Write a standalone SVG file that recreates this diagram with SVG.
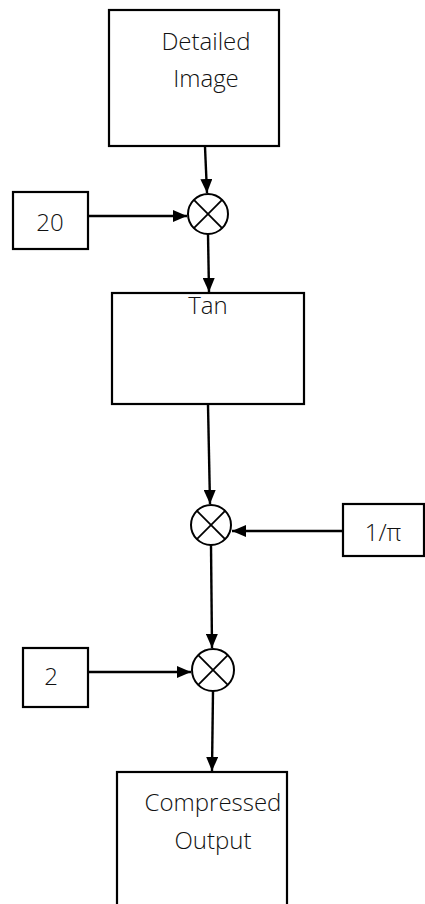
<svg xmlns="http://www.w3.org/2000/svg" width="425" height="904" viewBox="0 0 425 904">
  <style>
    .box { fill: #fff; stroke: #000; stroke-width: 2.2; }
    .mult circle { fill: #fff; stroke: #000; stroke-width: 2; }
    .mult line { stroke: #000; stroke-width: 1.8; }
    .lbl { font-family: "Open Sans", "Liberation Sans", sans-serif; font-weight: 300; font-size: 24px; fill: #111; text-anchor: middle; }
    .wire { stroke: #000; stroke-width: 2.4; fill: none; marker-end: url(#head); }
  </style>
  <defs>
    <marker id="head" viewBox="0 0 14 12" refX="14" refY="6" markerWidth="14" markerHeight="12" markerUnits="userSpaceOnUse" orient="auto">
      <path d="M0,0 L14,6 L0,12 Z" fill="#000"/>
    </marker>
  </defs>
  <rect width="425" height="904" fill="#fff"/>

  <g id="detailed-image">
    <rect class="box" x="109" y="10" width="170" height="136"/>
    <text class="lbl" x="206" y="50">Detailed</text>
    <text class="lbl" x="206" y="87">Image</text>
  </g>

  <g id="const-20">
    <rect class="box" x="13" y="192" width="75" height="57"/>
    <text class="lbl" x="50" y="231">20</text>
  </g>

  <g id="mult-1" class="mult">
    <circle cx="208" cy="214" r="20"/>
    <line x1="193.9" y1="199.9" x2="222.1" y2="228.1"/>
    <line x1="222.1" y1="199.9" x2="193.9" y2="228.1"/>
  </g>

  <g id="tan">
    <rect class="box" x="112" y="293" width="192" height="111"/>
    <text class="lbl" x="208" y="314">Tan</text>
  </g>

  <g id="mult-2" class="mult">
    <circle cx="211" cy="525" r="20"/>
    <line x1="196.9" y1="510.9" x2="225.1" y2="539.1"/>
    <line x1="225.1" y1="510.9" x2="196.9" y2="539.1"/>
  </g>

  <g id="const-inv-pi">
    <rect class="box" x="343" y="504" width="81" height="52"/>
    <text class="lbl" x="383" y="541">1/π</text>
  </g>

  <g id="const-2">
    <rect class="box" x="23" y="648" width="65" height="59"/>
    <text class="lbl" x="51" y="685">2</text>
  </g>

  <g id="mult-3" class="mult">
    <circle cx="213" cy="670" r="21"/>
    <line x1="198.2" y1="655.2" x2="227.8" y2="684.8"/>
    <line x1="227.8" y1="655.2" x2="198.2" y2="684.8"/>
  </g>

  <g id="compressed-output">
    <rect class="box" x="117" y="772" width="170" height="140"/>
    <text class="lbl" x="213" y="811">Compressed</text>
    <text class="lbl" x="213" y="849">Output</text>
  </g>

  <g id="connectors">
    <line class="wire" x1="205" y1="147" x2="207" y2="193"/>
    <line class="wire" x1="88" y1="216" x2="187" y2="216"/>
    <line class="wire" x1="208" y1="234" x2="209" y2="292"/>
    <line class="wire" x1="208" y1="405" x2="210" y2="504"/>
    <line class="wire" x1="343" y1="531" x2="232" y2="531"/>
    <line class="wire" x1="211" y1="545" x2="212" y2="648"/>
    <line class="wire" x1="88" y1="672" x2="191" y2="672"/>
    <line class="wire" x1="213" y1="691" x2="212" y2="771"/>
  </g>
</svg>
